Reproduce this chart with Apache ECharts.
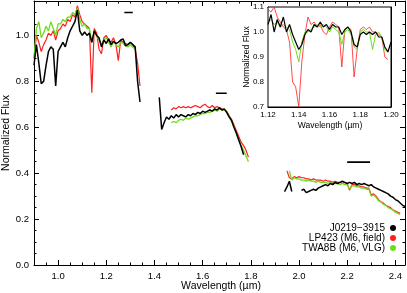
<!DOCTYPE html>
<html><head><meta charset="utf-8">
<script src="https://cdn.jsdelivr.net/npm/echarts@6/dist/echarts.min.js"></script>
<style>html,body{margin:0;padding:0;background:#fff}#c{width:407px;height:293px}</style>
</head><body><div id="c"></div>
<script>
// ---------- DATA ----------
const names = ['J0219\u22123915', 'LP423 (M6, field)', 'TWA8B (M6, VLG)'];

const waveJ = [0.90,0.91,0.92,0.93,0.94,0.95,0.96,0.97,0.98,0.99,1.00,1.01,1.02,1.03,1.04,1.05,1.06,1.07,1.08,1.09,1.10,1.11,1.12,1.13,1.14,1.15,1.16,1.17,1.18,1.19,1.20,1.21,1.22,1.23,1.24,1.25,1.26,1.27,1.28,1.29,1.30,1.31,1.32,1.33,1.34];
const blackJ = [0.87,0.96,0.88,0.79,0.80,0.87,0.93,0.95,0.94,0.78,0.93,0.95,0.97,0.95,0.99,1.02,1.04,1.06,1.11,1.02,1.00,1.015,1.00,1.01,0.97,1.02,1.00,0.99,0.95,0.98,0.965,0.985,0.96,0.975,0.965,0.97,0.98,0.985,0.955,0.96,0.97,0.96,0.95,0.80,0.71];
const redJ   = [0.90,1.00,0.97,0.93,0.96,0.98,1.01,1.00,1.02,0.98,1.02,1.03,1.05,1.04,1.07,1.06,1.09,1.08,1.13,1.09,1.06,1.05,1.04,1.03,0.75,1.03,1.01,0.94,0.92,0.99,1.00,0.98,0.97,0.99,0.96,0.89,0.98,0.97,0.965,0.96,0.97,0.96,0.94,0.88,0.78];
const greenJ = [0.90,1.03,1.06,0.99,1.01,1.04,1.02,1.06,1.03,1.00,1.05,1.05,1.07,1.06,1.08,1.08,1.10,1.09,1.12,1.07,1.04,1.05,1.03,1.03,0.97,1.02,1.00,0.98,0.96,0.98,0.99,0.97,0.95,0.97,0.96,0.95,0.97,0.965,0.955,0.95,0.96,0.95,0.94,null,null];

const waveH = [1.42,1.43,1.44,1.45,1.46,1.47,1.48,1.49,1.50,1.51,1.52,1.53,1.54,1.55,1.56,1.57,1.58,1.59,1.60,1.61,1.62,1.63,1.64,1.65,1.66,1.67,1.68,1.69,1.70,1.71,1.72,1.73,1.74,1.75,1.76,1.77,1.78,1.79];
const blackH = [0.73,0.59,0.62,0.645,0.635,0.65,0.64,0.655,0.645,0.655,0.65,0.645,0.655,0.65,0.66,0.655,0.665,0.66,0.67,0.665,0.67,0.675,0.67,0.68,0.675,0.685,0.675,0.68,0.665,0.645,0.63,0.60,0.575,0.545,0.515,0.48,null,null];
const redH   = [null,null,null,null,null,0.675,0.685,0.68,0.69,0.685,0.69,0.685,0.69,0.685,0.69,0.695,0.69,0.685,0.695,0.70,0.69,0.685,0.695,0.685,0.69,0.685,0.68,0.675,0.67,0.65,0.635,0.61,0.585,0.56,0.535,0.52,0.50,0.47];
const greenH = [null,null,null,null,null,0.62,0.625,0.62,0.63,0.635,0.63,0.64,0.635,0.64,0.645,0.65,0.65,0.655,0.66,0.66,0.665,0.665,0.67,0.675,0.67,0.68,0.675,0.675,0.665,0.645,0.625,0.60,0.57,0.545,0.52,0.50,0.475,0.45];

const waveK = [1.94,1.95,1.96,1.97,1.98,1.99,2.00,2.01,2.02,2.03,2.04,2.05,2.06,2.07,2.08,2.09,2.10,2.11,2.12,2.13,2.14,2.15,2.16,2.17,2.18,2.19,2.20,2.21,2.22,2.23,2.24,2.25,2.26,2.27,2.28,2.29,2.30,2.31,2.32,2.33,2.34,2.35,2.36,2.37,2.38,2.39,2.40,2.41,2.42,2.43,2.44];
const blackK = [0.32,0.34,0.365,0.32,null,null,null,0.325,0.33,0.315,0.32,0.325,0.33,0.325,0.335,0.34,0.345,0.35,0.345,0.355,0.35,0.36,0.355,0.36,0.365,0.36,0.355,0.36,0.355,0.36,0.35,0.355,0.35,0.355,0.35,0.345,0.35,0.34,0.335,0.33,0.325,0.32,0.315,0.31,0.30,0.295,0.285,0.28,0.27,0.26,0.255];
const redK   = [null,0.41,0.38,0.375,0.385,0.38,0.385,0.38,0.38,0.375,0.375,0.37,0.375,0.37,0.37,0.37,0.365,0.37,0.365,0.365,0.36,0.365,0.36,0.36,0.355,0.36,0.355,0.325,0.35,0.35,0.345,0.345,0.34,0.34,0.335,0.335,0.305,0.31,0.30,0.285,0.275,0.27,0.26,0.255,0.25,0.24,0.235,0.23,0.225,null,null];
const greenK = [null,null,0.41,0.37,0.38,0.375,0.375,0.37,0.37,0.365,0.37,0.365,0.365,0.36,0.365,0.36,0.36,0.36,0.355,0.36,0.355,0.355,0.355,0.35,0.355,0.35,0.35,0.33,0.345,0.345,0.34,0.34,0.335,0.335,0.33,0.33,0.30,0.305,0.295,0.28,0.275,0.265,0.26,0.25,0.245,0.24,0.23,0.225,0.22,null,null];

// inset (zoom on 1.12-1.20 um)
const waveI = [1.120,1.122,1.124,1.126,1.128,1.130,1.132,1.134,1.136,1.138,1.140,1.142,1.144,1.146,1.148,1.150,1.152,1.154,1.156,1.158,1.160,1.162,1.164,1.166,1.168,1.170,1.172,1.174,1.176,1.178,1.180,1.182,1.184,1.186,1.188,1.190,1.192,1.194,1.196,1.198,1.200];
const blackI = [1.03,1.07,1.00,1.05,1.02,1.06,1.00,1.03,0.99,0.96,0.93,0.95,0.99,1.01,1.00,1.03,1.02,1.04,1.02,1.03,1.01,1.03,1.02,1.02,0.99,1.01,1.02,1.00,0.95,0.94,0.99,1.00,0.99,1.00,0.99,1.00,0.98,0.98,0.94,0.92,0.96];
const redI   = [1.09,1.08,1.10,1.06,1.04,1.02,1.01,0.96,0.80,0.78,0.70,0.88,0.99,1.06,1.03,1.04,1.02,1.03,1.00,0.99,1.02,1.04,1.03,1.02,0.86,1.01,1.02,1.01,0.82,0.93,1.01,1.02,1.01,1.02,1.00,1.00,0.99,0.98,0.90,0.89,null];
const greenI = [1.04,1.05,1.03,1.04,1.02,1.03,1.02,1.01,0.96,0.93,0.88,0.96,1.00,1.00,1.01,1.02,1.03,1.02,1.03,1.02,1.00,1.02,1.01,1.00,0.95,1.00,1.01,0.99,0.94,0.93,1.00,1.01,1.00,1.00,0.93,0.99,1.00,0.98,0.93,0.92,null];

// resolution bars
const barStart = [1.275, 1.655, 2.20];
const barEnd   = [1.31, 1.70, 2.295];
const barLevel = [1.10, 0.748, 0.448];

// ticks
const xMajor = [1.0,1.2,1.4,1.6,1.8,2.0,2.2,2.4];
const xMinor = [0.95,1.05,1.1,1.15,1.25,1.3,1.35,1.45,1.5,1.55,1.65,1.7,1.75,1.85,1.9,1.95,2.05,2.1,2.15,2.25,2.3,2.35];
const yMajor = [0.0,0.2,0.4,0.6,0.8,1.0];
const yMinor = [0.05,0.1,0.15,0.25,0.3,0.35,0.45,0.5,0.55,0.65,0.7,0.75,0.85,0.9,0.95,1.05,1.1];
const ixMajor = [1.12,1.14,1.16,1.18,1.20];
const ixMinor = [1.13,1.15,1.17,1.19];
const iyMajor = [0.7,0.8,0.9,1.0,1.1];
const iyMinor = [0.75,0.85,0.95,1.05];

// ---------- CHART ----------
const FONT = 'Liberation Sans';
const colors = ['#000000', '#ff1f1f', '#6cdc1c'];
const zip = (w, f) => w.map((x, i) => [x, f[i]]);
const brk = (x) => [[x, null]];

function axis(kind, grid, pos, min, max, ticks, len, showLine, labelVals, fs, margin) {
  const a = {
    type: 'value', gridIndex: grid, position: pos, min: min, max: max,
    axisLine: { show: showLine, onZero: false, lineStyle: { color: '#000', width: 1 } },
    axisTick: { show: true, inside: true, length: len, customValues: ticks, lineStyle: { color: '#000', width: 1 } },
    axisLabel: { show: !!labelVals, customValues: labelVals || [], color: '#000', fontFamily: FONT, fontSize: fs || 9, margin: margin || 5,
      formatter: (v) => v.toFixed(grid === 1 && kind === 'x' ? 2 : 1) },
    splitLine: { show: false }, minorTick: { show: false }, minorSplitLine: { show: false }
  };
  return a;
}

const xAxes = [
  axis('x', 0, 'bottom', 0.9, 2.44, xMajor, 5, true, xMajor, 9.5, 6),
  axis('x', 0, 'bottom', 0.9, 2.44, xMinor, 2.5, false),
  axis('x', 0, 'top', 0.9, 2.44, xMajor, 5, true),
  axis('x', 0, 'top', 0.9, 2.44, xMinor, 2.5, false),
  axis('x', 1, 'bottom', 1.12, 1.20, ixMajor, 4, true, ixMajor, 8, 4),
  axis('x', 1, 'bottom', 1.12, 1.20, ixMinor, 2, false),
  axis('x', 1, 'top', 1.12, 1.20, ixMajor, 4, true),
  axis('x', 1, 'top', 1.12, 1.20, ixMinor, 2, false)
];
const yAxes = [
  axis('y', 0, 'left', 0, 1.15, yMajor, 5, true, yMajor, 9.5, 5),
  axis('y', 0, 'left', 0, 1.15, yMinor, 2.5, false),
  axis('y', 0, 'right', 0, 1.15, yMajor, 5, true),
  axis('y', 0, 'right', 0, 1.15, yMinor, 2.5, false),
  axis('y', 1, 'left', 0.7, 1.1, iyMajor, 4, true, iyMajor, 8, 4),
  axis('y', 1, 'left', 0.7, 1.1, iyMinor, 2, false),
  axis('y', 1, 'right', 0.7, 1.1, iyMajor, 4, true),
  axis('y', 1, 'right', 0.7, 1.1, iyMinor, 2, false)
];

function mainData(J, H, K) {
  return zip(waveJ, J).concat(brk(1.38), zip(waveH, H), brk(1.87), zip(waveK, K));
}
function lineSeries(name, data, color, width, xi, yi, z) {
  return { name: name, type: 'line', data: data, xAxisIndex: xi, yAxisIndex: yi, showSymbol: false, symbol: 'none',
    connectNulls: false, color: color, lineStyle: { color: color, width: width }, itemStyle: { color: color },
    animation: false, silent: true, z: z };
}

const series = [
  lineSeries(names[1], mainData(redJ, redH, redK), colors[1], 1.2, 0, 0, 2),
  lineSeries(names[2], mainData(greenJ, greenH, greenK), colors[2], 1.3, 0, 0, 3),
  lineSeries(names[0], mainData(blackJ, blackH, blackK), colors[0], 1.5, 0, 0, 4),
  lineSeries(names[1], zip(waveI, redI), colors[1], 0.8, 4, 4, 12),
  lineSeries(names[2], zip(waveI, greenI), colors[2], 1.0, 4, 4, 13),
  lineSeries(names[0], zip(waveI, blackI), colors[0], 1.2, 4, 4, 14)
];
barStart.forEach((s, i) => {
  series.push({ type: 'line', xAxisIndex: 0, yAxisIndex: 0, data: [[s, barLevel[i]], [barEnd[i], barLevel[i]]],
    symbol: 'none', lineStyle: { color: '#000', width: 1.6 }, animation: false, silent: true, z: 5 });
});

const chart = echarts.init(document.getElementById('c'), null, { renderer: 'canvas' });
chart.setOption({
  animation: false,
  backgroundColor: '#fff',
  grid: [
    { left: 34, top: 1, width: 371, height: 264, show: false, outerBoundsMode: 'none' },
    { left: 268, top: 7, width: 123, height: 100, show: true, backgroundColor: '#fff', borderColor: '#000', borderWidth: 1, z: 10, outerBoundsMode: 'none' }
  ],
  xAxis: xAxes,
  yAxis: yAxes,
  legend: {
    data: names, orient: 'vertical', right: 11, top: 223, align: 'right', icon: 'circle',
    itemWidth: 6, itemHeight: 6, itemGap: 0, padding: 0, selectedMode: false,
    textStyle: { color: '#000', fontFamily: FONT, fontSize: 10, lineHeight: 10, padding: [0, 0, 0, 0] }
  },
  graphic: [
    { type: 'text', x: 221, y: 286, style: { text: 'Wavelength (\u00b5m)', fill: '#000', fontFamily: FONT, fontSize: 10.5, align: 'center', verticalAlign: 'middle' } },
    { type: 'text', x: 6, y: 133, rotation: Math.PI / 2, style: { text: 'Normalized Flux', fill: '#000', fontFamily: FONT, fontSize: 10.5, align: 'center', verticalAlign: 'middle' } },
    { type: 'text', x: 330, y: 126, z: 20, style: { text: 'Wavelength (\u00b5m)', fill: '#000', fontFamily: FONT, fontSize: 8.5, align: 'center', verticalAlign: 'middle' } },
    { type: 'text', x: 247, y: 57, z: 20, rotation: Math.PI / 2, style: { text: 'Normalized Flux', fill: '#000', fontFamily: FONT, fontSize: 8.5, align: 'center', verticalAlign: 'middle' } }
  ],
  series: series
});
</script>
</body></html>
